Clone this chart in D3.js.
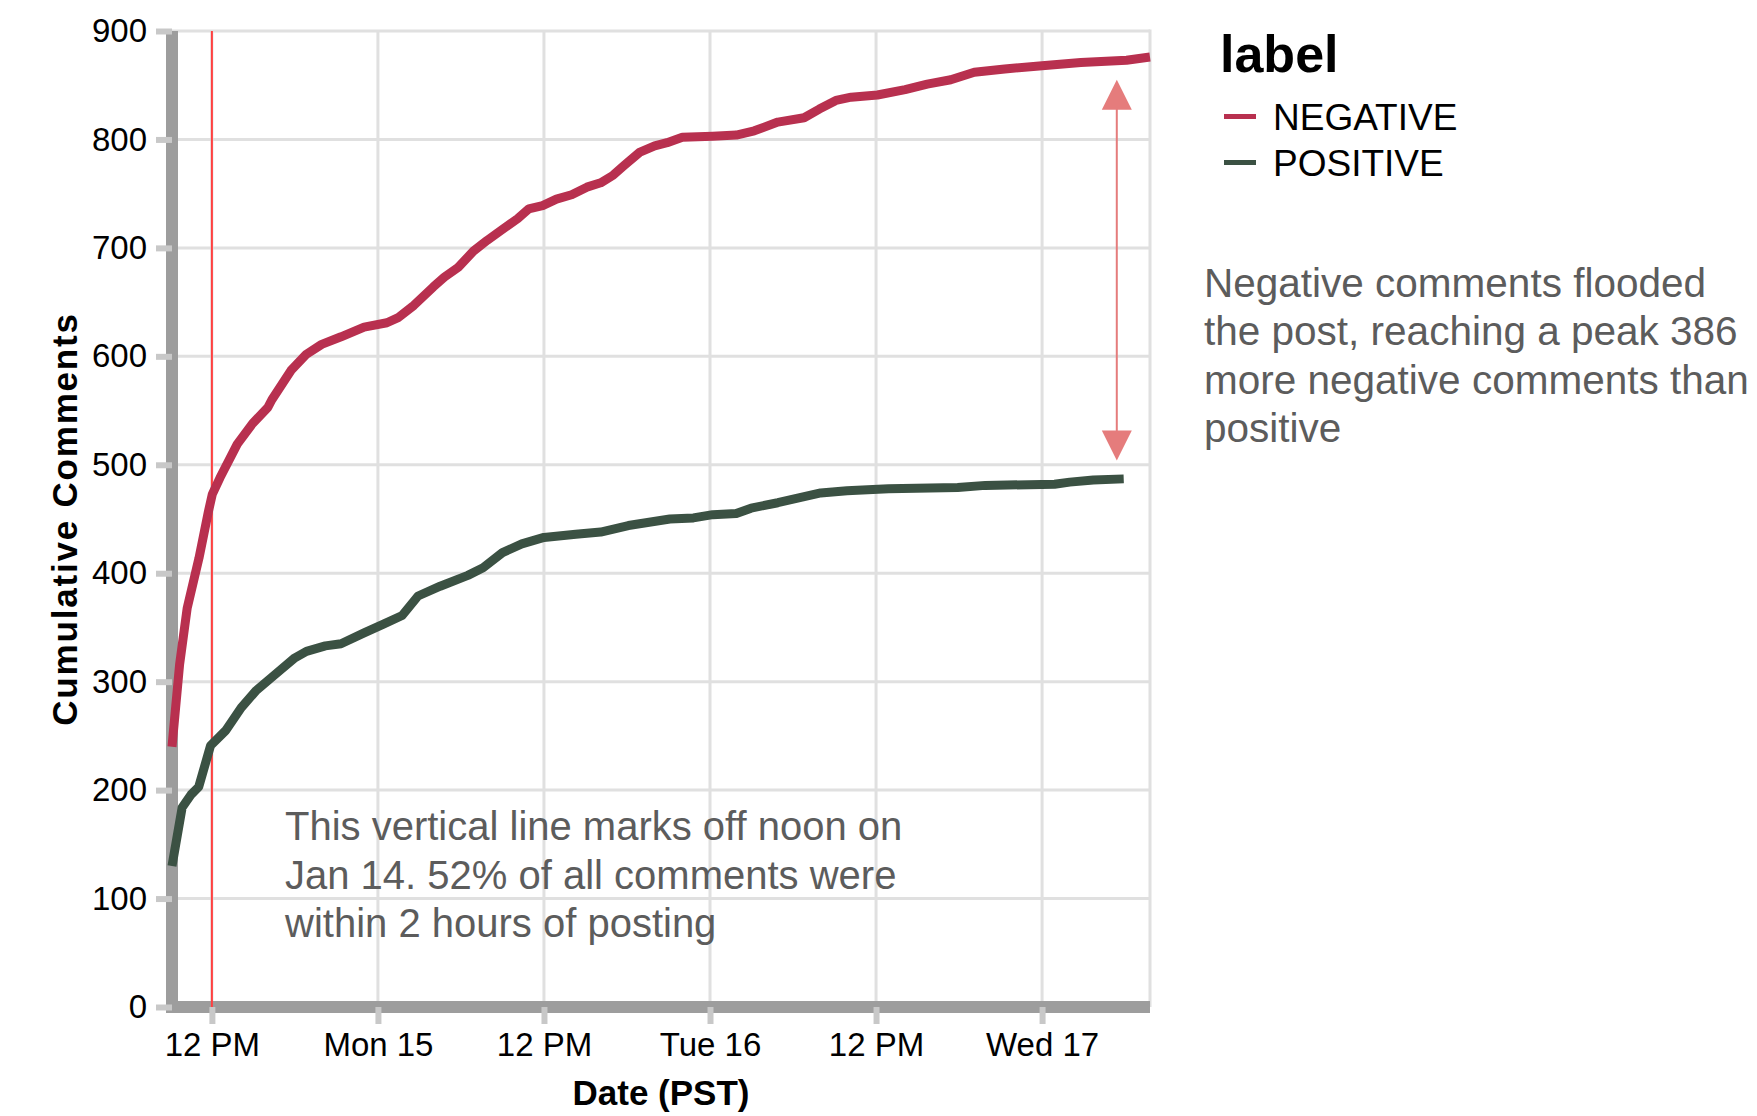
<!DOCTYPE html>
<html><head><meta charset="utf-8">
<script src="https://cdn.jsdelivr.net/npm/d3@7"></script>
<style>
body{margin:0;background:#fff}
svg{display:block}
text{font-family:"Liberation Sans",Arial,Helvetica,sans-serif}
</style>
</head><body>
<svg id="chart" width="1757" height="1116"></svg>
<script>
// ---------- data ----------
const seriesLabels = ["NEGATIVE", "POSITIVE"];
const seriesColors = ["#b8304f", "#3b5143"];

const negTimes = ["2018-01-14T09:07","2018-01-14T09:40","2018-01-14T10:13","2018-01-14T11:04","2018-01-14T11:45","2018-01-14T12:02","2018-01-14T12:35","2018-01-14T13:50","2018-01-14T14:56","2018-01-14T16:03","2018-01-14T16:20","2018-01-14T17:43","2018-01-14T18:50","2018-01-14T19:56","2018-01-14T21:20","2018-01-14T23:00","2018-01-15T00:39","2018-01-15T01:30","2018-01-15T02:36","2018-01-15T04:00","2018-01-15T04:48","2018-01-15T05:48","2018-01-15T06:54","2018-01-15T07:54","2018-01-15T09:00","2018-01-15T10:06","2018-01-15T10:54","2018-01-15T11:54","2018-01-15T12:54","2018-01-15T14:00","2018-01-15T15:06","2018-01-15T16:06","2018-01-15T17:00","2018-01-15T17:48","2018-01-15T18:54","2018-01-15T20:00","2018-01-15T20:54","2018-01-15T22:00","2018-01-16T00:12","2018-01-16T01:54","2018-01-16T03:12","2018-01-16T04:54","2018-01-16T06:48","2018-01-16T07:54","2018-01-16T09:06","2018-01-16T10:12","2018-01-16T12:06","2018-01-16T14:06","2018-01-16T15:42","2018-01-16T17:24","2018-01-16T19:06","2018-01-16T21:18","2018-01-17T00:00","2018-01-17T02:48","2018-01-17T06:06","2018-01-17T07:48"];
const negValues = [240,316,368,414,457,473,488,519,538,553,560,587,602,611,618,627,631,636,647,664,673,682,697,707,717,727,736,739,745,749,756,760,767,776,788,794,797,802,803,804,808,816,820,828,836,839,841,846,851,855,862,865,868,871,873,876];

const posTimes = ["2018-01-14T09:07","2018-01-14T09:51","2018-01-14T10:30","2018-01-14T11:03","2018-01-14T11:54","2018-01-14T13:00","2018-01-14T14:07","2018-01-14T15:13","2018-01-14T16:36","2018-01-14T18:00","2018-01-14T18:50","2018-01-14T20:12","2018-01-14T21:20","2018-01-14T23:00","2018-01-15T00:24","2018-01-15T01:45","2018-01-15T02:54","2018-01-15T04:30","2018-01-15T06:30","2018-01-15T07:36","2018-01-15T09:00","2018-01-15T10:24","2018-01-15T12:00","2018-01-15T14:18","2018-01-15T16:06","2018-01-15T18:06","2018-01-15T21:06","2018-01-15T22:48","2018-01-16T00:12","2018-01-16T01:54","2018-01-16T02:58","2018-01-16T04:54","2018-01-16T08:00","2018-01-16T09:54","2018-01-16T12:54","2018-01-16T17:54","2018-01-16T19:54","2018-01-17T00:54","2018-01-17T02:00","2018-01-17T03:42","2018-01-17T05:54"];
const posValues = [130,184,196,203,241,255,276,292,307,322,328,333,335,345,353,361,379,388,398,405,419,427,433,436,438,444,450,451,454,455,460,465,474,476,478,479,481,482,484,486,487];

const xTickTimes = ["2018-01-14T12:00","2018-01-15T00:00","2018-01-15T12:00","2018-01-16T00:00","2018-01-16T12:00","2018-01-17T00:00"];
const xTickLabels = ["12 PM","Mon 15","12 PM","Tue 16","12 PM","Wed 17"];
const yTicks = [0,100,200,300,400,500,600,700,800,900];
const yDomain = [0, 900];

const noonRuleTime = "2018-01-14T12:00";
const arrowTime = "2018-01-17T05:24";
const arrowValues = [504, 855];

const xTitle = "Date (PST)";
const yTitle = "Cumulative Comments";
const legendTitle = "label";
const noteLeft = ["This vertical line marks off noon on","Jan 14. 52% of all comments were","within 2 hours of posting"];
const noteRight = ["Negative comments flooded","the post, reaching a peak 386","more negative comments than","positive"];

// ---------- drawing ----------
const parse = d3.timeParse("%Y-%m-%dT%H:%M");
const neg = negTimes.map((t,i)=>({t:parse(t), v:negValues[i]}));
const pos = posTimes.map((t,i)=>({t:parse(t), v:posValues[i]}));
const series = [neg, pos];

const L = 172, R = 1150, T = 31, B = 1007;
const svg = d3.select("#chart");

const x = d3.scaleTime()
  .domain(d3.extent(neg.concat(pos), d=>d.t))
  .range([L, R]);
const y = d3.scaleLinear().domain(yDomain).range([B, T]);
const xTicks = xTickTimes.map(parse);

// grid
const grid = svg.append("g").attr("stroke", "#e0e0e0").attr("stroke-width", 3);
grid.selectAll("line.h").data(yTicks).join("line")
  .attr("x1", L).attr("x2", R).attr("y1", d=>y(d)).attr("y2", d=>y(d));
grid.selectAll("line.v").data(xTicks).join("line")
  .attr("x1", d=>x(d)).attr("x2", d=>x(d)).attr("y1", T).attr("y2", B);
grid.append("line").attr("x1", R).attr("x2", R).attr("y1", T - 1.5).attr("y2", B);

// axes
const xAxis = d3.axisBottom(x).tickValues(xTicks)
  .tickFormat((d,i)=>xTickLabels[i]).tickSize(17).tickSizeOuter(0).tickPadding(9);
const yAxis = d3.axisLeft(y).tickValues(yTicks)
  .tickSize(16).tickSizeOuter(0).tickPadding(9);

function styleAxis(g, fs){
  g.select(".domain").attr("stroke", "#9d9d9d").attr("stroke-width", 12);
  g.selectAll(".tick line").attr("stroke", "#c8c8c8").attr("stroke-width", 6);
  g.selectAll(".tick text").attr("fill", "#000").style("font-size", fs + "px")
    .style("font-family", '"Liberation Sans",Arial,sans-serif');
}
const gx = svg.append("g").attr("transform", `translate(0,${B})`).call(xAxis).call(styleAxis, 33);
gx.select(".domain").attr("d", `M${L},0H${R}`);
const gy = svg.append("g").attr("transform", `translate(${L},0)`).call(yAxis).call(styleAxis, 33);
gy.select(".domain").attr("d", `M0,${T}V${B+6}`);

// axis titles
svg.append("text").attr("x", (L+R)/2).attr("y", 1105).attr("text-anchor", "middle")
  .style("font-size", "35px").style("font-weight", "bold").text(xTitle);
svg.append("text").attr("transform", `translate(77,${(T+B)/2}) rotate(-90)`)
  .attr("text-anchor", "middle").style("font-size", "35px").style("font-weight", "bold")
  .style("letter-spacing", "1.8px").text(yTitle);

// noon rule
svg.append("line")
  .attr("x1", x(parse(noonRuleTime))).attr("x2", x(parse(noonRuleTime)))
  .attr("y1", T).attr("y2", B)
  .attr("stroke", "#ff4040").attr("stroke-width", 2);

// lines
const line = d3.line().x(d=>x(d.t)).y(d=>y(d.v));
svg.selectAll("path.series").data(series).join("path")
  .attr("class", "series")
  .attr("d", line).attr("fill", "none")
  .attr("stroke", (d,i)=>seriesColors[i]).attr("stroke-width", 9)
  .attr("stroke-linejoin", "round");

// arrow
const ax = x(parse(arrowTime));
const yLo = y(arrowValues[0]), yHi = y(arrowValues[1]);
const arrowColor = "#e57c7c";
svg.append("line").attr("x1", ax).attr("x2", ax).attr("y1", yHi + 10).attr("y2", yLo - 10)
  .attr("stroke", arrowColor).attr("stroke-width", 2);
svg.append("path").attr("d", `M${ax},${yHi}L${ax-15},${yHi+30}L${ax+15},${yHi+30}Z`).attr("fill", arrowColor);
svg.append("path").attr("d", `M${ax},${yLo}L${ax-15},${yLo-30}L${ax+15},${yLo-30}Z`).attr("fill", arrowColor);

// annotations
svg.append("text").attr("x", 285).attr("y", 840)
  .attr("fill", "#5c5c5c").style("font-size", "40px")
  .selectAll("tspan").data(noteLeft).join("tspan")
  .attr("x", 285).attr("dy", (d,i)=> i ? 48.5 : 0).text(d=>d);
svg.append("text").attr("x", 1204).attr("y", 297)
  .attr("fill", "#5c5c5c").style("font-size", "40.5px")
  .selectAll("tspan").data(noteRight).join("tspan")
  .attr("x", 1204).attr("dy", (d,i)=> i ? 48.3 : 0).text(d=>d);

// legend
const lg = svg.append("g");
lg.append("text").attr("x", 1220).attr("y", 72).style("font-size", "52px")
  .style("font-weight", "bold").text(legendTitle);
const items = lg.selectAll("g.item").data(seriesLabels).join("g")
  .attr("transform", (d,i)=>`translate(0,${116.5 + i*46})`);
items.append("line").attr("x1", 1224).attr("x2", 1256).attr("y1", 0).attr("y2", 0)
  .attr("stroke", (d,i)=>seriesColors[i]).attr("stroke-width", 5);
items.append("text").attr("x", 1273).attr("y", 13.5).style("font-size", "37px")
  .attr("fill", "#000").text(d=>d);
</script>
</body></html>
